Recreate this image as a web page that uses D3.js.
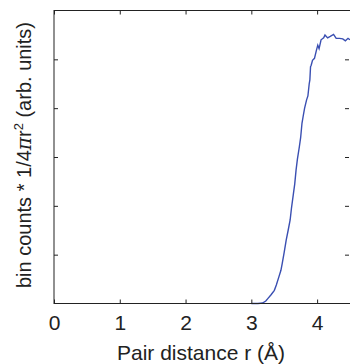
<!DOCTYPE html>
<html>
<head>
<meta charset="utf-8">
<script src="https://cdn.jsdelivr.net/npm/d3@7"></script>
<style>
  body { margin: 0; background: #fff; }
  svg { display: block; }
  text { font-family: "Liberation Sans", Arial, sans-serif; fill: #222; }
</style>
</head>
<body>
<svg id="chart" width="350" height="364"></svg>
<script>
// pair distance r (Å) and normalised bin counts
const rVals = [3.00, 3.10, 3.17, 3.22, 3.25, 3.30, 3.35, 3.38, 3.42, 3.45, 3.47, 3.50,
  3.53, 3.56, 3.59, 3.61, 3.64, 3.66, 3.68, 3.70, 3.73, 3.75, 3.77, 3.79, 3.81, 3.84,
  3.86, 3.88, 3.89, 3.90, 3.91, 3.93, 3.96, 3.99, 4.01, 4.03, 4.06, 4.10, 4.12, 4.16,
  4.20, 4.25, 4.29, 4.34, 4.39, 4.43, 4.47, 4.50];
const counts = [0.00, 0.00, 0.01, 0.05, 0.10, 0.18, 0.27, 0.38, 0.55, 0.68, 0.82, 1.05,
  1.30, 1.50, 1.71, 1.95, 2.25, 2.45, 2.73, 2.95, 3.21, 3.40, 3.69, 3.85, 4.00, 4.17,
  4.25, 4.50, 4.58, 4.85, 4.88, 4.98, 5.02, 5.19, 5.29, 5.22, 5.40, 5.44, 5.50, 5.44,
  5.47, 5.51, 5.43, 5.43, 5.42, 5.38, 5.43, 5.40];
const xTicks = [0, 1, 2, 3, 4];
const yTicks = [1, 2, 3, 4, 5];

const svg = d3.select('#chart');
const m = { left: 54, top: 10.5, right: 350, bottom: 303.5 };
const fs = 21;

const x = d3.scaleLinear().domain([0, 4.5]).range([m.left, m.right]);
const y = d3.scaleLinear().domain([0, 6]).range([m.bottom, m.top]);

// ── curve ───────────────────────────────────────────
const pts = rVals.map((r, i) => [r, counts[i]]);
svg.append('path')
  .datum(pts)
  .attr('fill', 'none')
  .attr('stroke', '#3a4fb2')
  .attr('stroke-width', 1.4)
  .attr('d', d3.line().x(d => x(d[0])).y(d => y(d[1])));

// ── axes (ticks point inward, no y labels) ──────────
const tl = 4;
const gB = svg.append('g').attr('transform', `translate(0,${m.bottom})`)
  .call(d3.axisBottom(x).tickValues(xTicks).tickFormat(d3.format('d'))
    .tickSizeInner(-tl).tickSizeOuter(0).tickPadding(12));
const gT = svg.append('g').attr('transform', `translate(0,${m.top})`)
  .call(d3.axisTop(x).tickValues(xTicks).tickSizeInner(-tl).tickSizeOuter(0).tickFormat(''));
const gL = svg.append('g').attr('transform', `translate(${m.left},0)`)
  .call(d3.axisLeft(y).tickValues(yTicks).tickSizeInner(-tl).tickSizeOuter(0).tickFormat(''));
const gR = svg.append('g').attr('transform', `translate(${m.right - 1},0)`)
  .call(d3.axisRight(y).tickValues(yTicks).tickSizeInner(-tl).tickSizeOuter(0).tickFormat(''));

[gB, gT, gL, gR].forEach(g => {
  g.select('.domain').remove();
  g.selectAll('line').attr('stroke', '#222');
});
gB.selectAll('text').attr('font-size', fs).attr('font-family', '"Liberation Sans", Arial, sans-serif').attr('fill', '#222');

// frame
svg.append('rect')
  .attr('x', m.left).attr('y', m.top)
  .attr('width', m.right - m.left + 2).attr('height', m.bottom - m.top)
  .attr('fill', 'none').attr('stroke', '#222').attr('stroke-width', 1);

// ── axis titles ─────────────────────────────────────
svg.append('text')
  .attr('x', 201).attr('y', 360)
  .attr('text-anchor', 'middle').attr('font-size', fs)
  .text('Pair distance r (Å)');

const yl = svg.append('text')
  .attr('transform', 'translate(31,155) rotate(-90)')
  .attr('text-anchor', 'middle').attr('font-size', 20);
yl.append('tspan').text('bin counts * 1/4');
yl.append('tspan').attr('font-family', '"DejaVu Serif", serif').attr('font-style', 'italic').text('π');
yl.append('tspan').text('r');
yl.append('tspan').attr('font-size', 13).attr('dy', -8).text('2');
yl.append('tspan').attr('dy', 8).text(' (arb. units)');
</script>
</body>
</html>
